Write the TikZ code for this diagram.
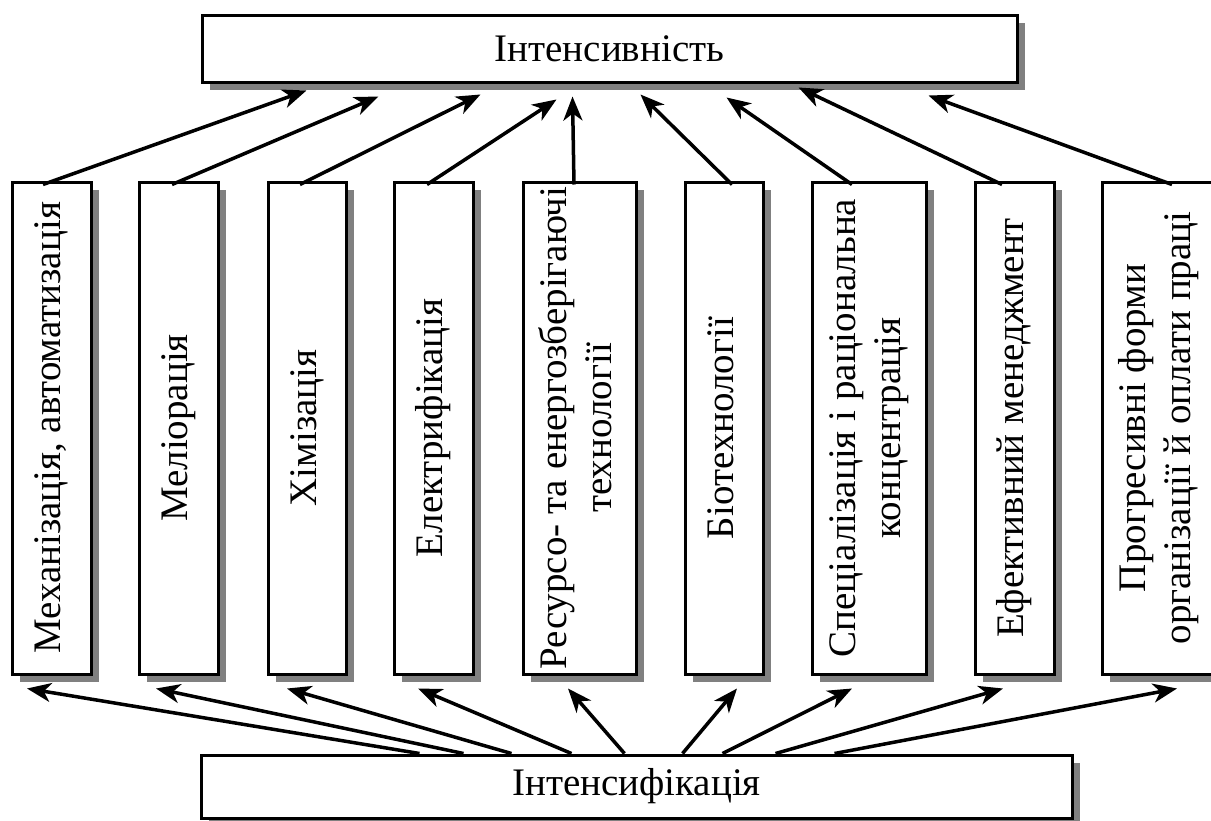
\documentclass[tikz,border=0pt]{standalone}
\usepackage{fontspec}
\setmainfont{Liberation Serif}
\usepackage{graphicx}
\usepackage{tikz}
\usetikzlibrary{arrows.meta,shadows}
\newcommand{\vlab}[1]{\rotatebox{90}{\begin{tabular}{@{}c@{}}#1\end{tabular}}}

\begin{document}
\begin{tikzpicture}[x=1pt,y=-1pt,
	box/.style={draw,line width=3pt,fill=white,inner sep=0pt,
		drop shadow={shadow xshift=8pt,shadow yshift=-8pt,fill=black!50,opacity=1}},
	vbox/.style={box,minimum height=492pt},
	arr/.style={line width=3.5pt,-{Stealth[length=24pt,width=19pt,inset=7pt]}}]
	\useasboundingbox (0,0) rectangle (1211,820);
	\fontsize{39}{45}\selectfont
	\node[box,minimum width=815pt,minimum height=67pt] (top) at (609.5,48.5) {Інтенсивність};
	\node[box,minimum width=871pt,minimum height=63pt] (bot) at (636.5,786.5) {Інтенсифікація};
	\node[vbox,minimum width=79pt] (f1) at (51.5,428) {\vlab{Механізація, автоматизація}};
	\node[vbox,minimum width=79pt] (f2) at (178.5,428) {\vlab{Меліорація}};
	\node[vbox,minimum width=78pt] (f3) at (307,428) {\vlab{Хімізація}};
	\node[vbox,minimum width=79pt] (f4) at (433.5,428) {\vlab{Електрифікація}};
	\node[vbox,minimum width=113pt] (f5) at (579.5,428) {\vlab{Ресурсо- та енергозберігаючі\\технології}};
	\node[vbox,minimum width=78pt] (f6) at (724,428) {\vlab{Біотехнології}};
	\node[vbox,minimum width=114pt] (f7) at (869,428) {\vlab{Спеціалізація і раціональна\\концентрація}};
	\node[vbox,minimum width=79pt] (f8) at (1014.5,428) {\vlab{Ефективний менеджмент}};
	\node[vbox,minimum width=113pt] (f9) at (1158.5,428) {\vlab{Прогресивні форми\\організації й оплати праці}};
	% arrows up to the top box
	\foreach \i/\s/\t/\h in {1/-8.5/106/-7, 2/-6.5/178/-13, 3/-7/280/-11, 4/-6.5/356/-16,
		5/-5.5/372/-13, 6/8/440/-11, 7/-17/526/-14, 8/-12.5/598/-4, 9/13.5/728/-12}
		\draw[arr] ([xshift=\s pt,yshift=-4pt]f\i.north) -- ([xshift=\t pt,yshift=\h pt]top.south west);
	% arrows from the bottom box
	\foreach \i/\s/\t in {1/220/-24.5, 2/264/-22.5, 3/312/-20, 4/372/-15.5, 5/425/-11.5,
		6/483/13, 7/523/-17, 8/576/-11.5, 9/635/18.5}
		\draw[arr] ([xshift=\s pt]bot.north west) -- ([xshift=\t pt,yshift=-13pt]f\i.south);
\end{tikzpicture}
\end{document}
